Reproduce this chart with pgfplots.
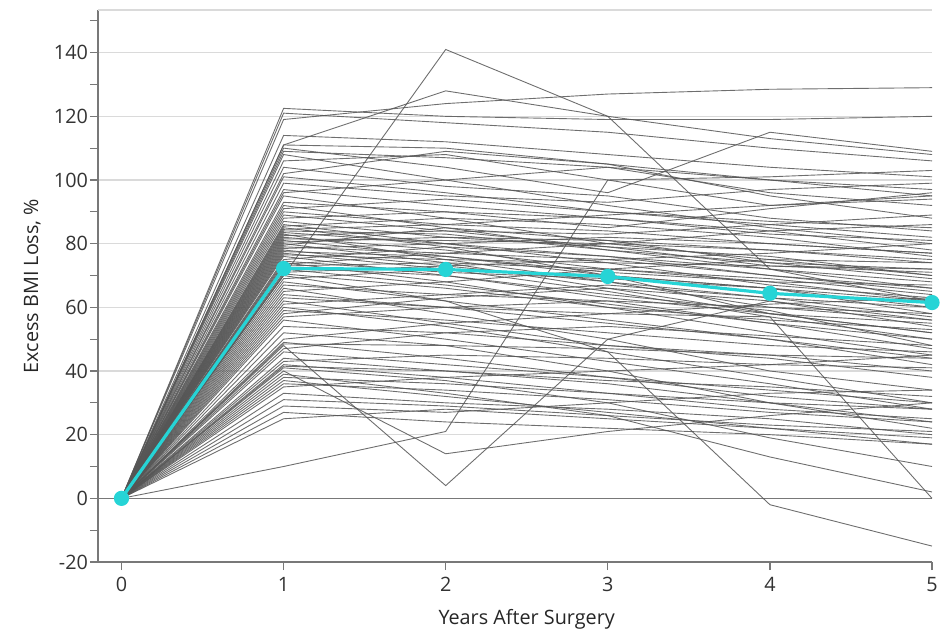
\documentclass[border=0pt]{standalone}
\usepackage{fontspec}
\setmainfont{Open Sans}
\usepackage{pgfplots}
\pgfplotsset{compat=1.18}

\definecolor{pt}{RGB}{85,85,85}
\definecolor{meancol}{RGB}{38,212,214}
\definecolor{gridc}{RGB}{218,218,218}
\definecolor{axc}{RGB}{120,120,120}

\pgfplotsset{
    pat/.style={pt, line width=0.45pt, opacity=0.85, mark=none},
}

\begin{document}
\begin{tikzpicture}
\path[use as bounding box] (-49pt,-35.5pt) rectangle (421pt,281pt);
\begin{axis}[
    scale only axis,
    width=417pt,
    height=276pt,
    at={(0,0)}, anchor=south west,
    xmin=-0.145, xmax=5,
    ymin=-20, ymax=153.4,
    axis lines*=left,
    axis line style={axc, line width=0.6pt},
    xtick={0,1,2,3,4,5},
    ytick={-20,0,20,40,60,80,100,120,140},
    minor ytick={-10,10,30,50,70,90,110,130,150},
    tick align=outside,
    major tick length=4pt,
    minor tick length=4pt,
    tick style={axc, line width=0.6pt},
    ymajorgrids,
    grid style={gridc, line width=0.7pt},
    extra y ticks={153.4},
    extra y tick labels={},
    extra y tick style={major tick length=0pt, grid=major},
    /pgf/number format/assume math mode=true,
    tick label style={font=\fontsize{9.9}{11}\selectfont, text=black!80},
    yticklabel style={xshift=2.5pt},
    label style={font=\fontsize{9.9}{11}\selectfont, text=black!85},
    xlabel={Years After Surgery},
    ylabel={Excess BMI Loss, \%},
    xlabel style={at={(axis description cs:0.514,-0.103)}, anchor=center},
    ylabel style={at={(axis description cs:-0.079,0.5)}, anchor=center},
    clip=false,
]
\addplot[axc, line width=0.7pt] coordinates {(-0.145,0) (5,0)};

% individual patients
\addplot[pat] coordinates {(0,0) (1,122.5) (2,120) (3,119) (4,119) (5,120)};
\addplot[pat] coordinates {(0,0) (1,121) (2,118) (3,115) (4,110) (5,106)};
\addplot[pat] coordinates {(0,0) (1,119) (2,124) (3,127) (4,128.5) (5,129)};
\addplot[pat] coordinates {(0,0) (1,111) (2,128) (3,120) (4,113) (5,108)};
\addplot[pat] coordinates {(0,0) (1,70) (2,141) (3,120) (4,72) (5,62)};
\addplot[pat] coordinates {(0,0) (1,114) (2,112) (3,108) (4,104) (5,101)};
\addplot[pat] coordinates {(0,0) (1,111) (2,110) (3,105) (4,95) (5,88)};
\addplot[pat] coordinates {(0,0) (1,110) (2,104) (3,96) (4,115) (5,109)};
\addplot[pat] coordinates {(0,0) (1,109) (2,107) (3,104) (4,100) (5,97)};
\addplot[pat] coordinates {(0,0) (1,108) (2,100) (3,92) (4,85) (5,80)};
\addplot[pat] coordinates {(0,0) (1,106) (2,108) (3,100) (4,101) (5,103)};
\addplot[pat] coordinates {(0,0) (1,104) (2,98) (3,95) (4,88) (5,84)};
\addplot[pat] coordinates {(0,0) (1,102) (2,109) (3,105) (4,100) (5,95)};
\addplot[pat] coordinates {(0,0) (1,101) (2,96) (3,90) (4,86) (5,82)};
\addplot[pat] coordinates {(0,0) (1,99) (2,95) (3,93) (4,97) (5,99)};
\addplot[pat] coordinates {(0,0) (1,97) (2,92) (3,88) (4,84) (5,78)};
\addplot[pat] coordinates {(0,0) (1,96) (2,100) (3,104) (4,96) (5,92)};
\addplot[pat] coordinates {(0,0) (1,95) (2,88) (3,80) (4,75) (5,70)};
\addplot[pat] coordinates {(0,0) (1,93) (2,90) (3,85) (4,91) (5,96)};
\addplot[pat] coordinates {(0,0) (1,92) (2,85) (3,78) (4,72) (5,66)};
\addplot[pat] coordinates {(0,0) (1,91) (2,94) (3,90) (4,87) (5,85)};
\addplot[pat] coordinates {(0,0) (1,90) (2,86) (3,84) (4,80) (5,77)};
\addplot[pat] coordinates {(0,0) (1,89) (2,84) (3,79) (4,76) (5,70)};
\addplot[pat] coordinates {(0,0) (1,88) (2,90) (3,88) (4,83) (5,81)};
\addplot[pat] coordinates {(0,0) (1,87) (2,82) (3,81) (4,78) (5,74)};
\addplot[pat] coordinates {(0,0) (1,86) (2,80) (3,74) (4,67) (5,63)};
\addplot[pat] coordinates {(0,0) (1,85.5) (2,88) (3,86) (4,82) (5,76)};
\addplot[pat] coordinates {(0,0) (1,85) (2,79) (3,70) (4,66) (5,58)};
\addplot[pat] coordinates {(0,0) (1,84.5) (2,86) (3,89) (4,92) (5,94)};
\addplot[pat] coordinates {(0,0) (1,84) (2,83) (3,78) (4,74) (5,72)};
\addplot[pat] coordinates {(0,0) (1,83.5) (2,80) (3,76) (4,72) (5,68)};
\addplot[pat] coordinates {(0,0) (1,83) (2,75) (3,68) (4,60) (5,56)};
\addplot[pat] coordinates {(0,0) (1,82.5) (2,84) (3,83) (4,86) (5,89)};
\addplot[pat] coordinates {(0,0) (1,82) (2,78) (3,72) (4,69) (5,64)};
\addplot[pat] coordinates {(0,0) (1,81.5) (2,81) (3,80) (4,78) (5,75)};
\addplot[pat] coordinates {(0,0) (1,81) (2,76) (3,70) (4,58) (5,52)};
\addplot[pat] coordinates {(0,0) (1,80.5) (2,82) (3,79) (4,73) (5,71)};
\addplot[pat] coordinates {(0,0) (1,80) (2,74) (3,66) (4,62) (5,54)};
\addplot[pat] coordinates {(0,0) (1,79.5) (2,85) (3,81) (4,74) (5,69)};
\addplot[pat] coordinates {(0,0) (1,79) (2,77) (3,75) (4,70) (5,66)};
\addplot[pat] coordinates {(0,0) (1,78.5) (2,80) (3,82) (4,80) (5,77)};
\addplot[pat] coordinates {(0,0) (1,78) (2,73) (3,68) (4,63) (5,57)};
\addplot[pat] coordinates {(0,0) (1,77.5) (2,76) (3,71) (4,68) (5,62)};
\addplot[pat] coordinates {(0,0) (1,77) (2,72) (3,65) (4,57) (5,50)};
\addplot[pat] coordinates {(0,0) (1,76.5) (2,75) (3,74) (4,73) (5,72)};
\addplot[pat] coordinates {(0,0) (1,76) (2,70) (3,64) (4,59) (5,48)};
\addplot[pat] coordinates {(0,0) (1,75) (2,79) (3,76) (4,70) (5,65)};
\addplot[pat] coordinates {(0,0) (1,74.5) (2,71) (3,69) (4,66) (5,60)};
\addplot[pat] coordinates {(0,0) (1,74) (2,68) (3,60) (4,52) (5,45)};
\addplot[pat] coordinates {(0,0) (1,73.5) (2,77) (3,80) (4,84) (5,86)};
\addplot[pat] coordinates {(0,0) (1,73) (2,74) (3,72) (4,68) (5,67)};
\addplot[pat] coordinates {(0,0) (1,72.5) (2,70) (3,63) (4,58) (5,55)};
\addplot[pat] coordinates {(0,0) (1,72) (2,67) (3,61) (4,55) (5,47)};
\addplot[pat] coordinates {(0,0) (1,71) (2,73) (3,75) (4,77) (5,80)};
\addplot[pat] coordinates {(0,0) (1,70.5) (2,66) (3,60) (4,56) (5,53)};
\addplot[pat] coordinates {(0,0) (1,70) (2,62) (3,46) (4,-2) (5,-15)};
\addplot[pat] coordinates {(0,0) (1,69) (2,72) (3,70) (4,66) (5,62)};
\addplot[pat] coordinates {(0,0) (1,68) (2,62) (3,56) (4,50) (5,44)};
\addplot[pat] coordinates {(0,0) (1,67) (2,64) (3,62) (4,60) (5,58)};
\addplot[pat] coordinates {(0,0) (1,66) (2,58) (3,50) (4,40) (5,34)};
\addplot[pat] coordinates {(0,0) (1,65) (2,68) (3,72) (4,75) (5,74)};
\addplot[pat] coordinates {(0,0) (1,64) (2,60) (3,55) (4,50) (5,42)};
\addplot[pat] coordinates {(0,0) (1,63) (2,60) (3,58) (4,57) (5,0)};
\addplot[pat] coordinates {(0,0) (1,62) (2,55) (3,48) (4,44) (5,38)};
\addplot[pat] coordinates {(0,0) (1,61) (2,64) (3,67) (4,63) (5,60)};
\addplot[pat] coordinates {(0,0) (1,60) (2,54) (3,46) (4,38) (5,30)};
\addplot[pat] coordinates {(0,0) (1,59) (2,56) (3,52) (4,48) (5,46)};
\addplot[pat] coordinates {(0,0) (1,58) (2,63) (3,66) (4,58) (5,52)};
\addplot[pat] coordinates {(0,0) (1,57) (2,60) (3,62) (4,55) (5,50)};
\addplot[pat] coordinates {(0,0) (1,56) (2,50) (3,43) (4,36) (5,28)};
\addplot[pat] coordinates {(0,0) (1,54) (2,52) (3,48) (4,45) (5,40)};
\addplot[pat] coordinates {(0,0) (1,52) (2,48) (3,40) (4,30) (5,22)};
\addplot[pat] coordinates {(0,0) (1,50) (2,55) (3,58) (4,61) (5,63)};
\addplot[pat] coordinates {(0,0) (1,49) (2,44) (3,38) (4,32) (5,28)};
\addplot[pat] coordinates {(0,0) (1,48.5) (2,48) (3,47) (4,45) (5,44)};
\addplot[pat] coordinates {(0,0) (1,48) (2,4) (3,50) (4,62) (5,56)};
\addplot[pat] coordinates {(0,0) (1,47) (2,52) (3,54) (4,51) (5,48)};
\addplot[pat] coordinates {(0,0) (1,46) (2,42) (3,38) (4,34) (5,30)};
\addplot[pat] coordinates {(0,0) (1,44) (2,40) (3,36) (4,30) (5,24)};
\addplot[pat] coordinates {(0,0) (1,43) (2,45) (3,44) (4,42) (5,41)};
\addplot[pat] coordinates {(0,0) (1,42) (2,38) (3,33) (4,28) (5,25)};
\addplot[pat] coordinates {(0,0) (1,41.5) (2,40) (3,37) (4,35) (5,32)};
\addplot[pat] coordinates {(0,0) (1,41) (2,37) (3,30) (4,19) (5,10)};
\addplot[pat] coordinates {(0,0) (1,40) (2,14) (3,21) (4,26) (5,30)};
\addplot[pat] coordinates {(0,0) (1,39) (2,33) (3,26) (4,13) (5,2)};
\addplot[pat] coordinates {(0,0) (1,38) (2,36) (3,33) (4,30) (5,28)};
\addplot[pat] coordinates {(0,0) (1,37) (2,32) (3,27) (4,22) (5,17)};
\addplot[pat] coordinates {(0,0) (1,36) (2,34) (3,31) (4,27) (5,24)};
\addplot[pat] coordinates {(0,0) (1,35) (2,38) (3,40) (4,42) (5,45)};
\addplot[pat] coordinates {(0,0) (1,33) (2,30) (3,28) (4,25) (5,20)};
\addplot[pat] coordinates {(0,0) (1,31) (2,29) (3,26) (4,23) (5,21)};
\addplot[pat] coordinates {(0,0) (1,29) (2,27) (3,30) (4,33) (5,34)};
\addplot[pat] coordinates {(0,0) (1,27) (2,24) (3,22) (4,20) (5,17)};
\addplot[pat] coordinates {(0,0) (1,25) (2,28) (3,25) (4,22) (5,19)};
\addplot[pat] coordinates {(0,0) (1,10) (2,21) (3,100) (4,92) (5,95)};

% mean
\addplot[meancol, line width=1.6pt, mark=*, mark size=3pt,
    mark options={fill=meancol, draw=meancol}] coordinates {
    (0,0) (1,72.2) (2,71.9) (3,69.7) (4,64.4) (5,61.5)
};
\end{axis}
\end{tikzpicture}
\end{document}
